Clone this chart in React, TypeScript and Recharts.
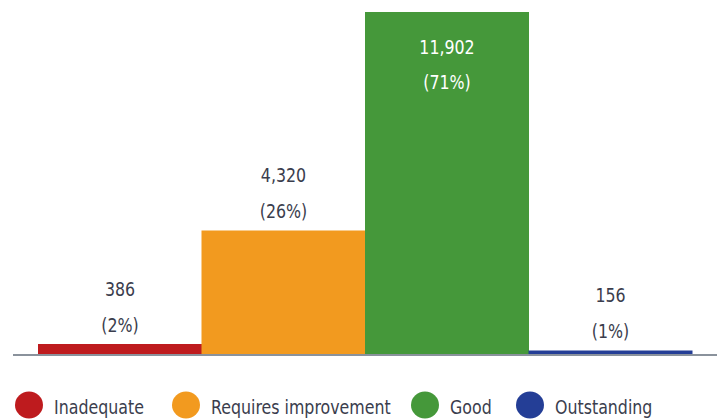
import React from 'react';
import { BarChart, Bar, XAxis, YAxis, Cell, LabelList } from 'recharts';

const categories = ['Inadequate', 'Requires improvement', 'Good', 'Outstanding'];
const counts = [386, 4320, 11902, 156];
const percents = ['2%', '26%', '71%', '1%'];
const colors = ['#BE1B1E', '#F29A1F', '#45983A', '#243E96'];

const data = categories.map((name, i) => ({ name, value: counts[i], pct: percents[i], color: colors[i] }));

const FONT = "'DejaVu Sans Condensed', 'DejaVu Sans', sans-serif";
const TEXT_COLOR = '#3a3d4d';
const SX = 0.88;

const NarrowText = ({ x, y, anchor, fill, children }: any) => (
  <text
    transform={`translate(${x},${y}) scale(${SX},1)`}
    x={0}
    y={0}
    textAnchor={anchor}
    dominantBaseline="central"
    fill={fill}
    fontSize={20}
    fontFamily={FONT}
  >
    {children}
  </text>
);

const BarLabel = (props: any) => {
  const { x, y, width, index } = props;
  const cx = Number(x) + Number(width) / 2;
  const top = Number(y);
  const inside = top < 60;
  const numY = inside ? top + 35 : top - 55;
  const pctY = inside ? top + 70 : top - 19;
  const fill = inside ? '#ffffff' : TEXT_COLOR;
  return (
    <g>
      <NarrowText x={cx} y={numY} anchor="middle" fill={fill}>
        {counts[index].toLocaleString('en-US')}
      </NarrowText>
      <NarrowText x={cx} y={pctY} anchor="middle" fill={fill}>
        ({percents[index]})
      </NarrowText>
    </g>
  );
};

const legendCircleX = [29, 186, 425, 530];

export default function App() {
  return (
    <div style={{ position: 'absolute', left: 0, top: 0, width: 720, height: 420, background: '#fff' }}>
      <BarChart
        width={720}
        height={420}
        data={data}
        margin={{ top: 12, right: 3, bottom: 55, left: 13 }}
        barCategoryGap={0}
      >
        <XAxis
          dataKey="name"
          tick={false}
          tickLine={false}
          height={10}
          padding={{ left: 25, right: 25 }}
          axisLine={{ stroke: '#8a929c', strokeWidth: 2 }}
        />
        <YAxis hide domain={[0, 11902]} />
        <Bar dataKey="value" isAnimationActive={false}>
          {data.map((d, i) => (
            <Cell key={i} fill={d.color} />
          ))}
          <LabelList dataKey="value" content={<BarLabel />} />
        </Bar>
      </BarChart>
      <svg width={720} height={40} style={{ position: 'absolute', left: 0, top: 385 }}>
        {categories.map((c, i) => (
          <g key={c}>
            <ellipse cx={legendCircleX[i]} cy={20} rx={14} ry={13.5} fill={colors[i]} />
            <NarrowText x={legendCircleX[i] + 25} y={22} anchor="start" fill={TEXT_COLOR}>
              {c}
            </NarrowText>
          </g>
        ))}
      </svg>
    </div>
  );
}
